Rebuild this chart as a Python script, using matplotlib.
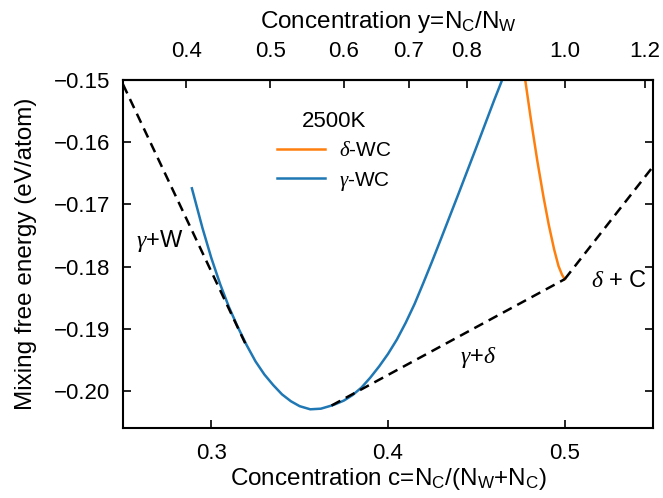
import matplotlib
matplotlib.use("Agg")
import matplotlib.pyplot as plt
import numpy as np

plt.rcParams['font.family'] = ['Liberation Sans', 'DejaVu Sans']
plt.rcParams['mathtext.fontset'] = 'custom'
plt.rcParams['mathtext.rm'] = 'Liberation Sans'
plt.rcParams['mathtext.it'] = 'Liberation Serif:italic'
plt.rcParams['axes.linewidth'] = 1.5

# gamma-WC free energy curve
c_gamma = [0.289, 0.295, 0.300, 0.305, 0.310, 0.315, 0.320, 0.325, 0.330, 0.335,
           0.340, 0.345, 0.350, 0.356, 0.362, 0.368, 0.370, 0.375, 0.380, 0.385,
           0.390, 0.395, 0.400, 0.405, 0.410, 0.415, 0.420, 0.425, 0.430, 0.440,
           0.450, 0.460, 0.465]
e_gamma = [-0.1674, -0.1738, -0.1786, -0.1828, -0.1865, -0.1897, -0.1926, -0.1952,
           -0.1973, -0.1990, -0.2005, -0.2016, -0.2024, -0.2029, -0.2028, -0.2023,
           -0.2021, -0.2015, -0.2006, -0.1994, -0.1978, -0.1960, -0.1940, -0.1917,
           -0.1890, -0.1860, -0.1826, -0.1791, -0.1755, -0.1682, -0.1608, -0.1533,
           -0.1497]

# delta-WC
c_delta = [0.4775, 0.4810, 0.4845, 0.4880, 0.4910, 0.4940, 0.4965, 0.4985, 0.5000]
e_delta = [-0.1497, -0.1566, -0.1630, -0.1688, -0.1733, -0.1772, -0.1799, -0.1813, -0.1820]

# common tangent construction
c_gw = [0.25, 0.3195]
e_gw = [-0.1507, -0.1925]
c_gd = [0.368, 0.500]
e_gd = [-0.2023, -0.1820]
c_dc = [0.500, 0.550]
e_dc = [-0.1820, -0.1639]

y_ticks_top = [0.4, 0.5, 0.6, 0.7, 0.8, 1.0, 1.2]

fig = plt.figure(figsize=(6.63, 4.98), dpi=100)
ax = fig.add_axes([0.1855, 0.1406, 0.7995, 0.6988])

ax.plot(c_delta, e_delta, color='#ff7f0e', lw=1.8, label=r'$\delta$-WC')
ax.plot(c_gamma, e_gamma, color='#1f77b4', lw=1.8, label=r'$\gamma$-WC')
for cc, ee in [(c_gw, e_gw), (c_gd, e_gd), (c_dc, e_dc)]:
    ax.plot(cc, ee, color='black', lw=1.8, ls=(0, (4, 2.5)))

ax.text(0.2709, -0.1758, r'$\gamma$+W', fontsize=17, ha='center', va='center')
ax.text(0.4508, -0.1945, r'$\gamma$+$\delta$', fontsize=17, ha='center', va='center')
ax.text(0.5306, -0.1823, r'$\delta$ + C', fontsize=17, ha='center', va='center')

ax.set_xlim(0.25, 0.55)
ax.set_ylim(-0.2059, -0.15)
ax.set_xticks([0.3, 0.4, 0.5])
ax.set_yticks([-0.20, -0.19, -0.18, -0.17, -0.16, -0.15])
ax.set_yticklabels(['\u22120.20', '\u22120.19', '\u22120.18', '\u22120.17', '\u22120.16', '\u22120.15'])
ax.tick_params(direction='in', length=6, width=1.2, labelsize=16, right=True)
ax.tick_params(axis='x', pad=11)
ax.tick_params(axis='y', pad=9)
ax.set_xlabel(r'Concentration c=N$_\mathrm{C}$/(N$_\mathrm{W}$+N$_\mathrm{C}$)', fontsize=17.5, labelpad=1)
ax.set_ylabel('Mixing free energy (eV/atom)', fontsize=17.5, labelpad=12)

top = ax.secondary_xaxis('top', functions=(lambda c: c / (1 - c), lambda y: y / (1 + y)))
top.set_xticks(y_ticks_top)
top.set_xticklabels(['%.1f' % v for v in y_ticks_top])
top.tick_params(direction='in', length=6, width=1.2, labelsize=16, pad=13)
top.set_xlabel(r'Concentration y=N$_\mathrm{C}$/N$_\mathrm{W}$', fontsize=17.5, labelpad=9)

leg = ax.legend(loc='upper left', bbox_to_anchor=(0.255, 0.965), frameon=False,
                fontsize=15, title='2500K', title_fontsize=16, handlelength=2.3,
                handletextpad=0.7, labelspacing=0.45)

fig.savefig('out.png', dpi=100)
